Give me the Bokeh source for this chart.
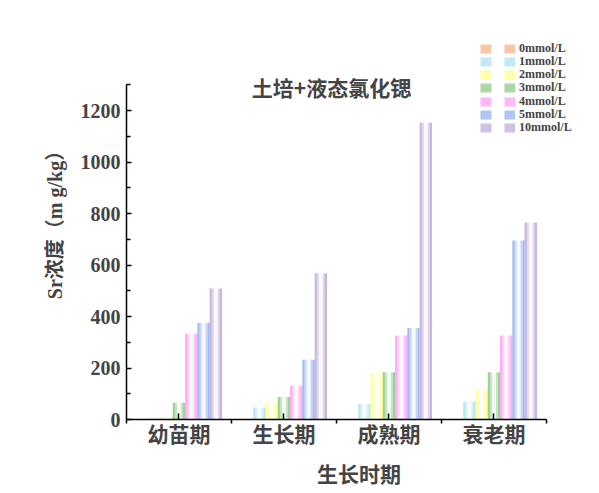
from bokeh.plotting import figure
from bokeh.models import Range1d, FixedTicker, Label, Legend, LegendItem
from bokeh.embed import file_html
from bokeh.resources import INLINE

# ---- data ----
stages = ["幼苗期", "生长期", "成熟期", "衰老期"]
series_labels = ["0mmol/L", "1mmol/L", "2mmol/L", "3mmol/L", "4mmol/L", "5mmol/L", "10mmol/L"]
sr_0 = [0, 0, 0, 0]
sr_1 = [5, 47, 61, 70]
sr_2 = [10, 66, 180, 115]
sr_3 = [65, 87, 184, 184]
sr_4 = [333, 131, 326, 326]
sr_5 = [375, 232, 355, 695]
sr_10 = [509, 568, 1153, 765]
y_ticks = [0, 200, 400, 600, 800, 1000, 1200]
y_minor = [100, 300, 500, 700, 900, 1100, 1300]

series_values = [sr_0, sr_1, sr_2, sr_3, sr_4, sr_5, sr_10]
colors = ["#F6B98E", "#B4E6EE", "#FFFF96", "#96CF8E", "#FFA6F2", "#9AB7F2", "#C4B2DC"]

CJK = "Noto Sans CJK SC"
SERIF = "'Liberation Serif', 'Noto Sans CJK SC'"

# frame extends beyond the axes so the legend (above/right of the axes) is not clipped
p = figure(frame_width=465, frame_height=399,
           min_border_left=126, min_border_right=0, min_border_top=20, min_border_bottom=66,
           x_range=Range1d(0.5, 4.929), y_range=Range1d(0, 1550),
           output_backend="svg", toolbar_location=None)
p.xgrid.grid_line_color = None
p.ygrid.grid_line_color = None
p.outline_line_color = None
p.background_fill_color = "white"

# bars drawn as vertical strips to mimic the edge gradient
bar_w = 0.117
alphas = [0.95, 0.55, 0.08, 0.08, 0.55, 0.95]
ns = len(alphas)
sw = bar_w / ns
xs_base = [i + 1 for i in range(len(stages))]
for j, (vals, col) in enumerate(zip(series_values, colors)):
    for k, a in enumerate(alphas):
        xs = [b + (j - 3) * bar_w + (k - (ns - 1) / 2) * sw for b in xs_base]
        p.vbar(x=xs, top=vals, width=sw * 1.05, fill_color=col, fill_alpha=a, line_color=None)
    # hidden renderer only used for the legend swatch (two blocks)
    r = p.line(x=xs_base, y=vals, line_color=col, line_width=9, line_dash="11 13",
               line_cap="butt", line_alpha=0.8, visible=False)
    lg = Legend(items=[LegendItem(label=series_labels[j], renderers=[r])],
                location=(354, int(round(362.5 - 13.33 * j))), padding=0, margin=0, spacing=0,
                glyph_width=35, glyph_height=17, label_height=17, label_standoff=4,
                label_text_font="Liberation Serif", label_text_font_style="bold",
                label_text_font_size="12px", border_line_color=None, background_fill_alpha=0)
    p.add_layout(lg)

title = Label(x=2.452, y=1290, text="土培+液态氯化锶", text_font=CJK, text_font_style="bold",
              text_font_size="21px", text_align="center", text_baseline="middle")
p.add_layout(title)

# x axis
xa = p.xaxis[0]
xa.bounds = (0.5, 4.5)
xa.ticker = FixedTicker(ticks=xs_base, minor_ticks=[0.5, 1.5, 2.5, 3.5, 4.5])
xa.major_label_overrides = {b: s for b, s in zip(xs_base, stages)}
xa.major_label_text_font = CJK
xa.major_label_text_font_style = "bold"
xa.major_label_text_font_size = "21px"
try:
    xa.major_label_standoff = -6
except Exception:
    xa.major_label_standoff = 0
xa.major_tick_in = 6
xa.major_tick_out = 0
xa.minor_tick_in = 0
xa.minor_tick_out = 4
xa.axis_line_width = 1.5
xa.major_tick_line_width = 1.5
xa.minor_tick_line_width = 1.5
xa.axis_label = "生长时期"
xa.axis_label_text_font = CJK
xa.axis_label_text_font_style = "bold"
xa.axis_label_text_font_size = "21px"
xa.axis_label_standoff = 7

# y axis
ya = p.yaxis[0]
ya.bounds = (0, 1300)
ya.ticker = FixedTicker(ticks=y_ticks, minor_ticks=y_minor)
ya.major_label_text_font = "Liberation Serif"
ya.major_label_text_font_style = "bold"
ya.major_label_text_font_size = "20px"
ya.major_label_standoff = 6
ya.major_tick_in = 5
ya.major_tick_out = 0
ya.minor_tick_in = 4
ya.minor_tick_out = 0
ya.axis_line_width = 1.5
ya.major_tick_line_width = 1.5
ya.minor_tick_line_width = 1.5
ya.axis_label = "Sr浓度（m g/kg）"
ya.axis_label_text_font = SERIF
ya.axis_label_text_font_style = "bold"
ya.axis_label_text_font_size = "20px"
ya.axis_label_standoff = 12

open("out.html", "w").write(file_html(p, INLINE))
